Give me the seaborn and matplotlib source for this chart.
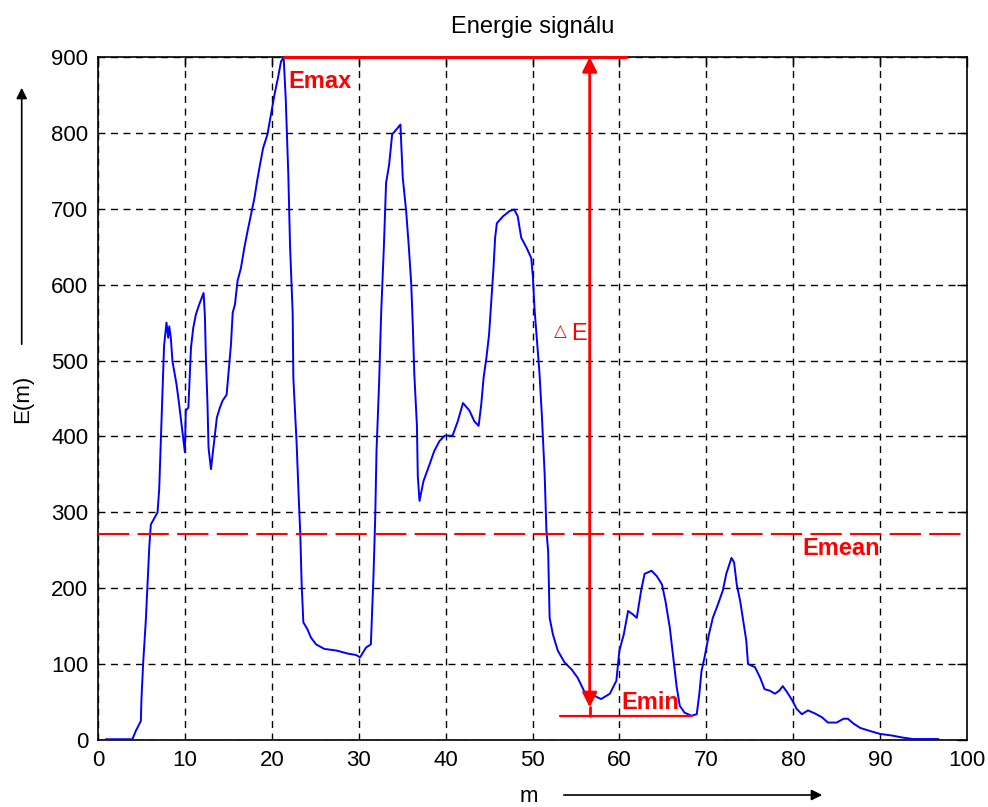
import matplotlib
matplotlib.use("Agg")
import matplotlib.pyplot as plt
import seaborn as sns
import pandas as pd

# ---- data ----
m_vals = [0.9, 3.96, 4.35, 4.93, 5.0, 5.2, 5.5, 5.7, 5.9, 6.08, 6.85, 7.04, 7.23, 7.42, 7.6, 7.88,
          8.08, 8.2, 8.38, 8.57, 9.03, 9.34, 9.61, 10.0, 10.1, 10.4, 10.7, 10.96, 11.27, 11.65, 12.15,
          12.3, 12.42, 12.6, 12.72, 13.0, 13.26, 13.49, 13.68, 14.03, 14.33, 14.8, 15.0, 15.3, 15.5,
          15.76, 16.06, 16.45, 16.83, 17.2, 17.6, 18.0, 18.3, 18.64, 19.0, 19.5, 19.9, 20.3, 20.7,
          21.06, 21.36, 21.6, 21.9, 22.1, 22.4, 22.48, 22.86, 23.1, 23.28, 23.43, 23.63, 24.1, 24.5,
          25.1, 26.05, 27.4, 28.7, 29.7, 30.16, 30.85, 31.4, 31.5, 31.7, 31.9, 32.05, 32.35, 32.58,
          32.9, 33.15, 33.5, 33.85, 34.3, 34.8, 35.07, 35.46, 35.76, 36.04, 36.22, 36.4, 36.7, 36.8,
          37.0, 37.45, 38.15, 38.7, 39.3, 39.9, 40.8, 41.4, 42.0, 42.75, 43.3, 43.8, 44.1, 44.37,
          44.7, 45.0, 45.25, 45.5, 45.7, 45.9, 46.6, 47.36, 47.9, 48.3, 48.7, 49.3, 49.86, 50.05,
          50.24, 50.5, 50.8, 51.08, 51.4, 51.6, 51.8, 51.97, 52.35, 52.9, 53.7, 54.5, 55.2, 56.0,
          56.6, 57.15, 57.9, 58.9, 59.65, 60.0, 60.5, 61.0, 61.5, 62.0, 62.5, 62.9, 63.7, 64.3, 64.9,
          65.3, 65.8, 66.2, 66.6, 66.95, 67.5, 68.3, 68.9, 69.2, 69.45, 69.8, 70.3, 70.75, 71.35,
          71.9, 72.3, 72.9, 73.2, 73.5, 73.9, 74.25, 74.6, 74.8, 75.6, 76.2, 76.7, 77.3, 77.9, 78.4,
          78.8, 79.3, 79.9, 80.4, 81.0, 81.7, 82.5, 83.3, 84.0, 85.0, 85.8, 86.3, 86.9, 87.7, 88.8,
          90.0, 91.3, 92.7, 93.8, 96.7]
E_vals = [1, 1, 12, 25, 54, 102, 157, 205, 254, 284, 300, 330, 394, 455, 519, 550,
          530, 545, 530, 499, 469, 442, 416, 379, 434, 438, 517, 543, 561, 574, 589,
          559, 502, 442, 385, 357, 383, 405, 425, 438, 447, 455, 482, 521, 563,
          574, 605, 622, 648, 670, 692, 714, 736, 758, 780, 798, 824, 850, 872,
          894, 900, 846, 745, 651, 563, 477, 390, 319, 271, 207, 155, 146, 135,
          126, 120, 118, 114, 112, 109, 122, 126, 157, 216, 293, 381, 471, 561,
          651, 734, 758, 798, 804, 811, 741, 697, 651, 602, 548, 482, 414, 348,
          315, 341, 363, 381, 394, 401, 401, 420, 444, 434, 420, 414, 442, 477,
          504, 534, 578, 620, 662, 681, 690, 697, 699, 690, 662, 649, 635, 609,
          567, 528, 484, 427, 350, 276, 249, 161, 139, 118, 102, 93, 82, 63,
          61, 58, 54, 61, 78, 118, 139, 170, 166, 161, 197, 219, 223, 216, 205,
          183, 148, 109, 69, 45, 36, 32, 34, 61, 91, 109, 139, 161, 179,
          197, 219, 240, 234, 205, 183, 157, 131, 100, 96, 82, 67, 65, 61, 65,
          71, 63, 52, 41, 34, 39, 35, 30, 23, 23, 28, 28, 22, 16, 12,
          8, 6, 3, 1.3, 1.3]

E_MAX = 900
E_MIN = 31
E_MEAN = 272
M_ARROW = 56.58
EMAX_LINE_END = 60.8
EMIN_LINE = [53.2, 68.3]

x_ticks = list(range(0, 101, 10))
y_ticks = list(range(0, 901, 100))

title = "Energie signálu"
xlabel = "m"
ylabel = "E(m)"

df = pd.DataFrame({"m": m_vals, "E": E_vals})

# ---- style ----
sns.set_style("white")
plt.rcParams["font.family"] = ["Liberation Sans", "DejaVu Sans"]
plt.rcParams["text.color"] = "black"
plt.rcParams["axes.labelcolor"] = "black"
plt.rcParams["axes.titlecolor"] = "black"

fig = plt.figure(figsize=(9.88, 8.07), dpi=100)
ax = fig.add_axes([98 / 988, 1 - 740 / 807, (967 - 98) / 988, (740 - 57) / 807])

ax.set_axisbelow(True)
ax.grid(True, color="black", linestyle=(0, (5, 4)), linewidth=1.0)

sns.lineplot(data=df, x="m", y="E", ax=ax, color="#0000ff", linewidth=1.4,
             sort=False, estimator=None, zorder=3)

ax.set_xlim(0, 100)
ax.set_ylim(0, 900)
ax.set_xticks(x_ticks)
ax.set_yticks(y_ticks)
ax.tick_params(axis="both", direction="in", length=7, width=1.0, top=True, right=True,
               labelsize=16, colors="black", pad=7)
for s in ax.spines.values():
    s.set_visible(True)
    s.set_color("black")
    s.set_linewidth(1.2)
ax.set_xlabel("")
ax.set_ylabel("")
ax.set_title(title, fontsize=17, pad=17, color="black")

# ---- annotations ----
red = "#ff0000"
ax.plot([df["m"][df["E"].idxmax()], EMAX_LINE_END], [E_MAX, E_MAX], color=red, lw=2.2,
        clip_on=False, zorder=6)
ax.axhline(E_MEAN, color=red, lw=1.5, linestyle=(0, (15, 4)), zorder=4)
ax.plot(EMIN_LINE, [E_MIN, E_MIN], color=red, lw=1.6, zorder=5)
ax.annotate("", xy=(M_ARROW, E_MAX), xytext=(M_ARROW, E_MIN + 12),
            arrowprops=dict(arrowstyle="<|-|>", color=red, lw=2, mutation_scale=22,
                            shrinkA=0, shrinkB=0), zorder=6, annotation_clip=False)
ax.plot([M_ARROW, M_ARROW], [E_MIN, E_MIN + 12], color=red, lw=2, zorder=6)

ax.text(21.9, 868, "Emax", color=red, fontsize=17, fontweight="bold", va="center", ha="left")
ax.text(81.0, 253, "Emean", color=red, fontsize=17, fontweight="bold", va="center", ha="left")
ax.text(60.2, 50, "Emin", color=red, fontsize=17, fontweight="bold", va="center", ha="left")
ax.text(53.2, 539, "△", color=red, fontsize=12, fontweight="bold", va="center", ha="center",
        family=["DejaVu Sans"])
ax.text(54.5, 535, "E", color=red, fontsize=17, va="center", ha="left")

# ---- axis labels with arrows (figure coords) ----
W, H = 988, 807
fig.text(529 / W, 1 - 797 / H, xlabel, fontsize=16, ha="center", va="center")
fig.add_artist(matplotlib.patches.FancyArrowPatch(
    (561 / W, 1 - 795 / H), (825 / W, 1 - 795 / H), transform=fig.transFigure,
    arrowstyle="-|>", mutation_scale=16, color="black", lw=1.2))
fig.text(22.5 / W, 1 - 399 / H, ylabel, fontsize=16, ha="center", va="center", rotation=90)
fig.add_artist(matplotlib.patches.FancyArrowPatch(
    (21.7 / W, 1 - 347 / H), (21.7 / W, 1 - 85 / H), transform=fig.transFigure,
    arrowstyle="-|>", mutation_scale=16, color="black", lw=1.2))

fig.savefig("out.png", dpi=100, facecolor="white")
